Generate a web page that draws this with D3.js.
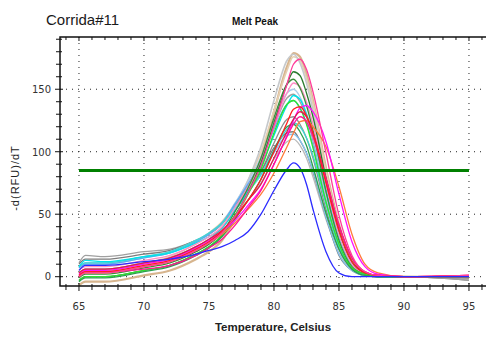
<!DOCTYPE html>
<html>
<head>
<meta charset="utf-8">
<script src="https://cdn.jsdelivr.net/npm/d3@7"></script>
<style>
  body { margin: 0; background: #fff; }
  svg { display: block; }
  .tick-label { font-family: "DejaVu Sans", sans-serif; font-size: 10px; fill: #333; }
</style>
</head>
<body>
<div id="chart"></div>
<script>
// temperature grid shared by every well (Celsius)
const temps = [65, 65.5, 67, 70, 72, 74, 75, 76, 77, 78, 79, 80, 81, 81.5, 82, 82.5, 83, 84, 85, 86, 87, 88, 90, 95];

// -d(RFU)/dT, one array per well
const tan       = [-7, -4, -4, 1, 5, 14, 20, 29, 46, 67, 95, 132, 168, 179, 176, 162, 141, 87, 42, 13, 3, 0, 0, -1];
const silver    = [1, 4, 4, 9, 13, 22, 28, 38, 56, 77, 104, 141, 173, 178, 171, 155, 133, 77, 32, 9, 2, 0, 0, 0];
const wheat     = [3, 6, 6, 11, 16, 27, 35, 44, 58, 77, 100, 133, 165, 176, 173, 159, 139, 85, 39, 12, 3, 0, 0, 0];
const hotPink   = [0, 3, 3, 8, 12, 21, 27, 35, 48, 67, 89, 121, 154, 170, 174, 166, 148, 99, 49, 17, 4, 1, 0, 1];
const darkGreen = [-3, 0, 0, 5, 9, 18, 24, 33, 49, 67, 91, 123, 154, 164, 161, 147, 128, 79, 37, 12, 3, 0, 0, 0];
const seaGreen  = [-1, 2, 2, 7, 11, 20, 26, 35, 52, 71, 95, 127, 154, 158, 151, 137, 117, 68, 29, 8, 2, 0, 0, 0];
const lightPink = [5, 8, 8, 13, 17, 26, 32, 40, 55, 72, 93, 120, 147, 155, 152, 140, 122, 74, 33, 10, 2, 0, 0, 0];
const steel     = [7, 10, 10, 15, 19, 28, 34, 43, 59, 76, 96, 124, 147, 150, 144, 131, 112, 64, 25, 7, 2, 0, 0, 0];
const gray      = [11, 17, 16, 20, 22, 29, 34, 42, 56, 73, 93, 120, 143, 146, 140, 128, 109, 66, 26, 7, 2, 0, 0, -3];
const cyan      = [8, 13, 12, 16, 19, 27, 32, 39, 53, 68, 88, 113, 137, 145, 142, 130, 114, 70, 31, 10, 2, 0, 0, 0];
const lightBlue = [7, 10, 10, 15, 19, 28, 34, 43, 58, 74, 92, 118, 138, 141, 135, 123, 105, 60, 24, 7, 1, 0, 0, 0];
const lime      = [-3, 0, 0, 5, 9, 18, 24, 33, 49, 66, 86, 115, 138, 141, 135, 122, 103, 60, 26, 7, 2, 0, 0, 0];
const magenta   = [2, 5, 5, 10, 14, 23, 29, 36, 45, 57, 70, 90, 113, 125, 135, 137, 132, 108, 66, 28, 8, 2, 0, 1];
const red       = [1, 4, 4, 9, 13, 22, 28, 36, 47, 61, 78, 100, 123, 134, 136, 129, 115, 75, 37, 12, 3, 1, 0, 1];
const crimson   = [3, 6, 6, 11, 15, 24, 30, 37, 48, 61, 74, 95, 116, 126, 132, 128, 115, 79, 41, 15, 4, 1, 0, 0];
const deepPink  = [1, 4, 4, 6, 9, 17, 23, 30, 41, 55, 69, 90, 112, 122, 128, 124, 112, 78, 41, 15, 4, 1, 0, 1];
const gray2     = [3, 6, 6, 11, 15, 24, 30, 39, 53, 67, 84, 107, 126, 128, 122, 111, 95, 54, 22, 6, 1, 0, 0, -3];
const turquoise = [8, 11, 11, 16, 20, 29, 35, 43, 55, 68, 82, 101, 118, 123, 120, 111, 97, 58, 24, 7, 2, 0, 0, 0];
const orange    = [0, 3, 3, 8, 12, 21, 27, 34, 43, 54, 66, 83, 104, 115, 124, 125, 120, 104, 72, 34, 10, 3, 0, 0];
const green     = [-4, -1, -1, 4, 8, 17, 23, 32, 46, 61, 78, 101, 120, 122, 116, 105, 88, 51, 22, 6, 1, 0, 0, 0];
const darkGray  = [10, 14, 14, 18, 21, 29, 34, 43, 56, 69, 84, 103, 115, 116, 109, 99, 84, 48, 17, 5, 1, 0, 0, -1];
const skyBlue   = [8, 11, 11, 16, 20, 29, 35, 43, 56, 68, 81, 99, 113, 114, 109, 99, 85, 48, 18, 5, 1, 0, 0, 0];
const lightGray = [0, 3, 3, 8, 12, 21, 27, 35, 48, 61, 75, 94, 108, 110, 105, 95, 80, 46, 19, 5, 1, 0, 0, -2];
const blue      = [5, 9, 9, 12, 14, 18, 21, 24, 29, 36, 50, 69, 86, 91, 87, 74, 54, 20, 3, 0, 0, 0, 0, 0];

const threshold = 85;
const xTicks = [65, 70, 75, 80, 85, 90, 95];
const yTicks = [0, 50, 100, 150];

// draw order + colours
const series = [
  [tan, '#d7b58e', 2.2], [wheat, '#e6cfb2', 1.6], [silver, '#c6c9cc', 1.6],
  [lightGray, '#b9b9b9', 1.3], [gray2, '#8f8f8f', 1.3], [gray, '#a0a0a0', 1.3],
  [darkGray, '#7c7c7c', 1.3], [steel, '#aecbe8', 1.3], [skyBlue, '#86c5f2', 1.3],
  [lightBlue, '#5aa8f2', 1.3], [turquoise, '#3fd8d0', 1.3], [cyan, '#00e2ea', 1.3],
  [lightPink, '#ff8cc6', 1.3], [seaGreen, '#3b8f3b', 1.3], [darkGreen, '#2b7a2e', 1.3],
  [lime, '#2ee62e', 1.3], [green, '#2ea04f', 1.3], [orange, '#ff7b3a', 1.3],
  [magenta, '#ff10ff', 1.3], [crimson, '#e0184e', 1.3], [deepPink, '#ff1493', 1.3],
  [red, '#ff1f1f', 1.3], [hotPink, '#ff3d9a', 1.3], [blue, '#2b2bff', 1.3]
];

const width = 486, height = 338;
const plot = { left: 60, top: 37, right: 486, bottom: 286 };

const svg = d3.select('#chart').append('svg')
  .attr('width', width)
  .attr('height', height);

const x = d3.scaleLinear().domain([63.54, 96.31]).range([plot.left, plot.right]);
const y = d3.scaleLinear().domain([-7.45, 191.8]).range([plot.bottom, plot.top]);

// dotted grid
svg.append('g').selectAll('line').data(xTicks).enter().append('line')
  .attr('x1', d => x(d)).attr('x2', d => x(d))
  .attr('y1', plot.top).attr('y2', plot.bottom)
  .attr('stroke', '#222').attr('stroke-width', 1).attr('stroke-dasharray', '1,5');
svg.append('g').selectAll('line').data(yTicks).enter().append('line')
  .attr('y1', d => y(d)).attr('y2', d => y(d))
  .attr('x1', plot.left).attr('x2', plot.right)
  .attr('stroke', '#222').attr('stroke-width', 1).attr('stroke-dasharray', '1,5');

// clip curves to plot area
svg.append('clipPath').attr('id', 'clip').append('rect')
  .attr('x', plot.left).attr('y', plot.top)
  .attr('width', plot.right - plot.left).attr('height', plot.bottom - plot.top);

const line = d3.line()
  .x((d, i) => x(temps[i]))
  .y(d => y(d))
  .curve(d3.curveMonotoneX);

const curves = svg.append('g').attr('clip-path', 'url(#clip)');
curves.selectAll('path').data(series).enter().append('path')
  .attr('d', d => line(d[0]))
  .attr('fill', 'none')
  .attr('stroke', d => d[1])
  .attr('stroke-width', d => d[2])
  .attr('stroke-linejoin', 'round');

// threshold line
svg.append('line')
  .attr('x1', x(65)).attr('x2', x(95))
  .attr('y1', y(threshold)).attr('y2', y(threshold))
  .attr('stroke', '#008000').attr('stroke-width', 3);

// frame
svg.append('path')
  .attr('d', `M${plot.right + 2},${plot.top}H${plot.left}V${plot.bottom}H${plot.right + 2}`)
  .attr('fill', 'none').attr('stroke', '#111').attr('stroke-width', 1.5);

// x axis ticks (bottom, crossing the line) and top ticks
const xMinor = d3.range(64, 97, 1);
svg.append('g').selectAll('line').data(xMinor).enter().append('line')
  .attr('x1', d => x(d)).attr('x2', d => x(d))
  .attr('y1', d => plot.bottom - (d % 5 === 0 ? 3 : 2))
  .attr('y2', d => plot.bottom + (d % 5 === 0 ? 5 : 4))
  .attr('stroke', '#111').attr('stroke-width', 1);
svg.append('g').selectAll('line').data(xMinor).enter().append('line')
  .attr('x1', d => x(d)).attr('x2', d => x(d))
  .attr('y1', plot.top).attr('y2', d => plot.top + (d % 5 === 0 ? 4 : 3))
  .attr('stroke', '#111').attr('stroke-width', 1);

// y axis ticks
const yMinor = d3.range(0, 191, 10);
svg.append('g').selectAll('line').data(yMinor).enter().append('line')
  .attr('y1', d => y(d)).attr('y2', d => y(d))
  .attr('x1', d => plot.left - (d % 50 === 0 ? 5 : 4))
  .attr('x2', d => plot.left + (d % 50 === 0 ? 3 : 2))
  .attr('stroke', '#111').attr('stroke-width', 1);

// tick labels
svg.append('g').selectAll('text').data(xTicks).enter().append('text')
  .attr('class', 'tick-label')
  .attr('x', d => x(d)).attr('y', 309.5)
  .attr('text-anchor', 'middle')
  .text(d => d);
svg.append('g').selectAll('text').data(yTicks).enter().append('text')
  .attr('class', 'tick-label')
  .attr('x', 51).attr('y', d => y(d) + 3.8)
  .attr('text-anchor', 'end')
  .text(d => d);

// titles
svg.append('text')
  .attr('x', 46).attr('y', 25)
  .style('font-family', '"Liberation Sans", Arial, sans-serif')
  .style('font-size', '15px').style('fill', '#1a1a1a')
  .text('Corrida#11');
svg.append('text')
  .attr('x', 255).attr('y', 25)
  .attr('text-anchor', 'middle')
  .style('font-family', '"Liberation Sans", Arial, sans-serif')
  .style('font-size', '10px').style('font-weight', 'bold').style('fill', '#111')
  .text('Melt Peak');
svg.append('text')
  .attr('x', 273).attr('y', 331)
  .attr('text-anchor', 'middle')
  .style('font-family', '"Liberation Sans", Arial, sans-serif')
  .style('font-size', '11.5px').style('font-weight', 'bold').style('fill', '#222')
  .text('Temperature, Celsius');
svg.append('text')
  .attr('transform', 'translate(19,178) rotate(-90)')
  .attr('text-anchor', 'middle')
  .style('font-family', '"Liberation Sans", Arial, sans-serif')
  .style('font-size', '11px').style('fill', '#222')
  .style('letter-spacing', '1px')
  .text('-d(RFU)/dT');
</script>
</body>
</html>
